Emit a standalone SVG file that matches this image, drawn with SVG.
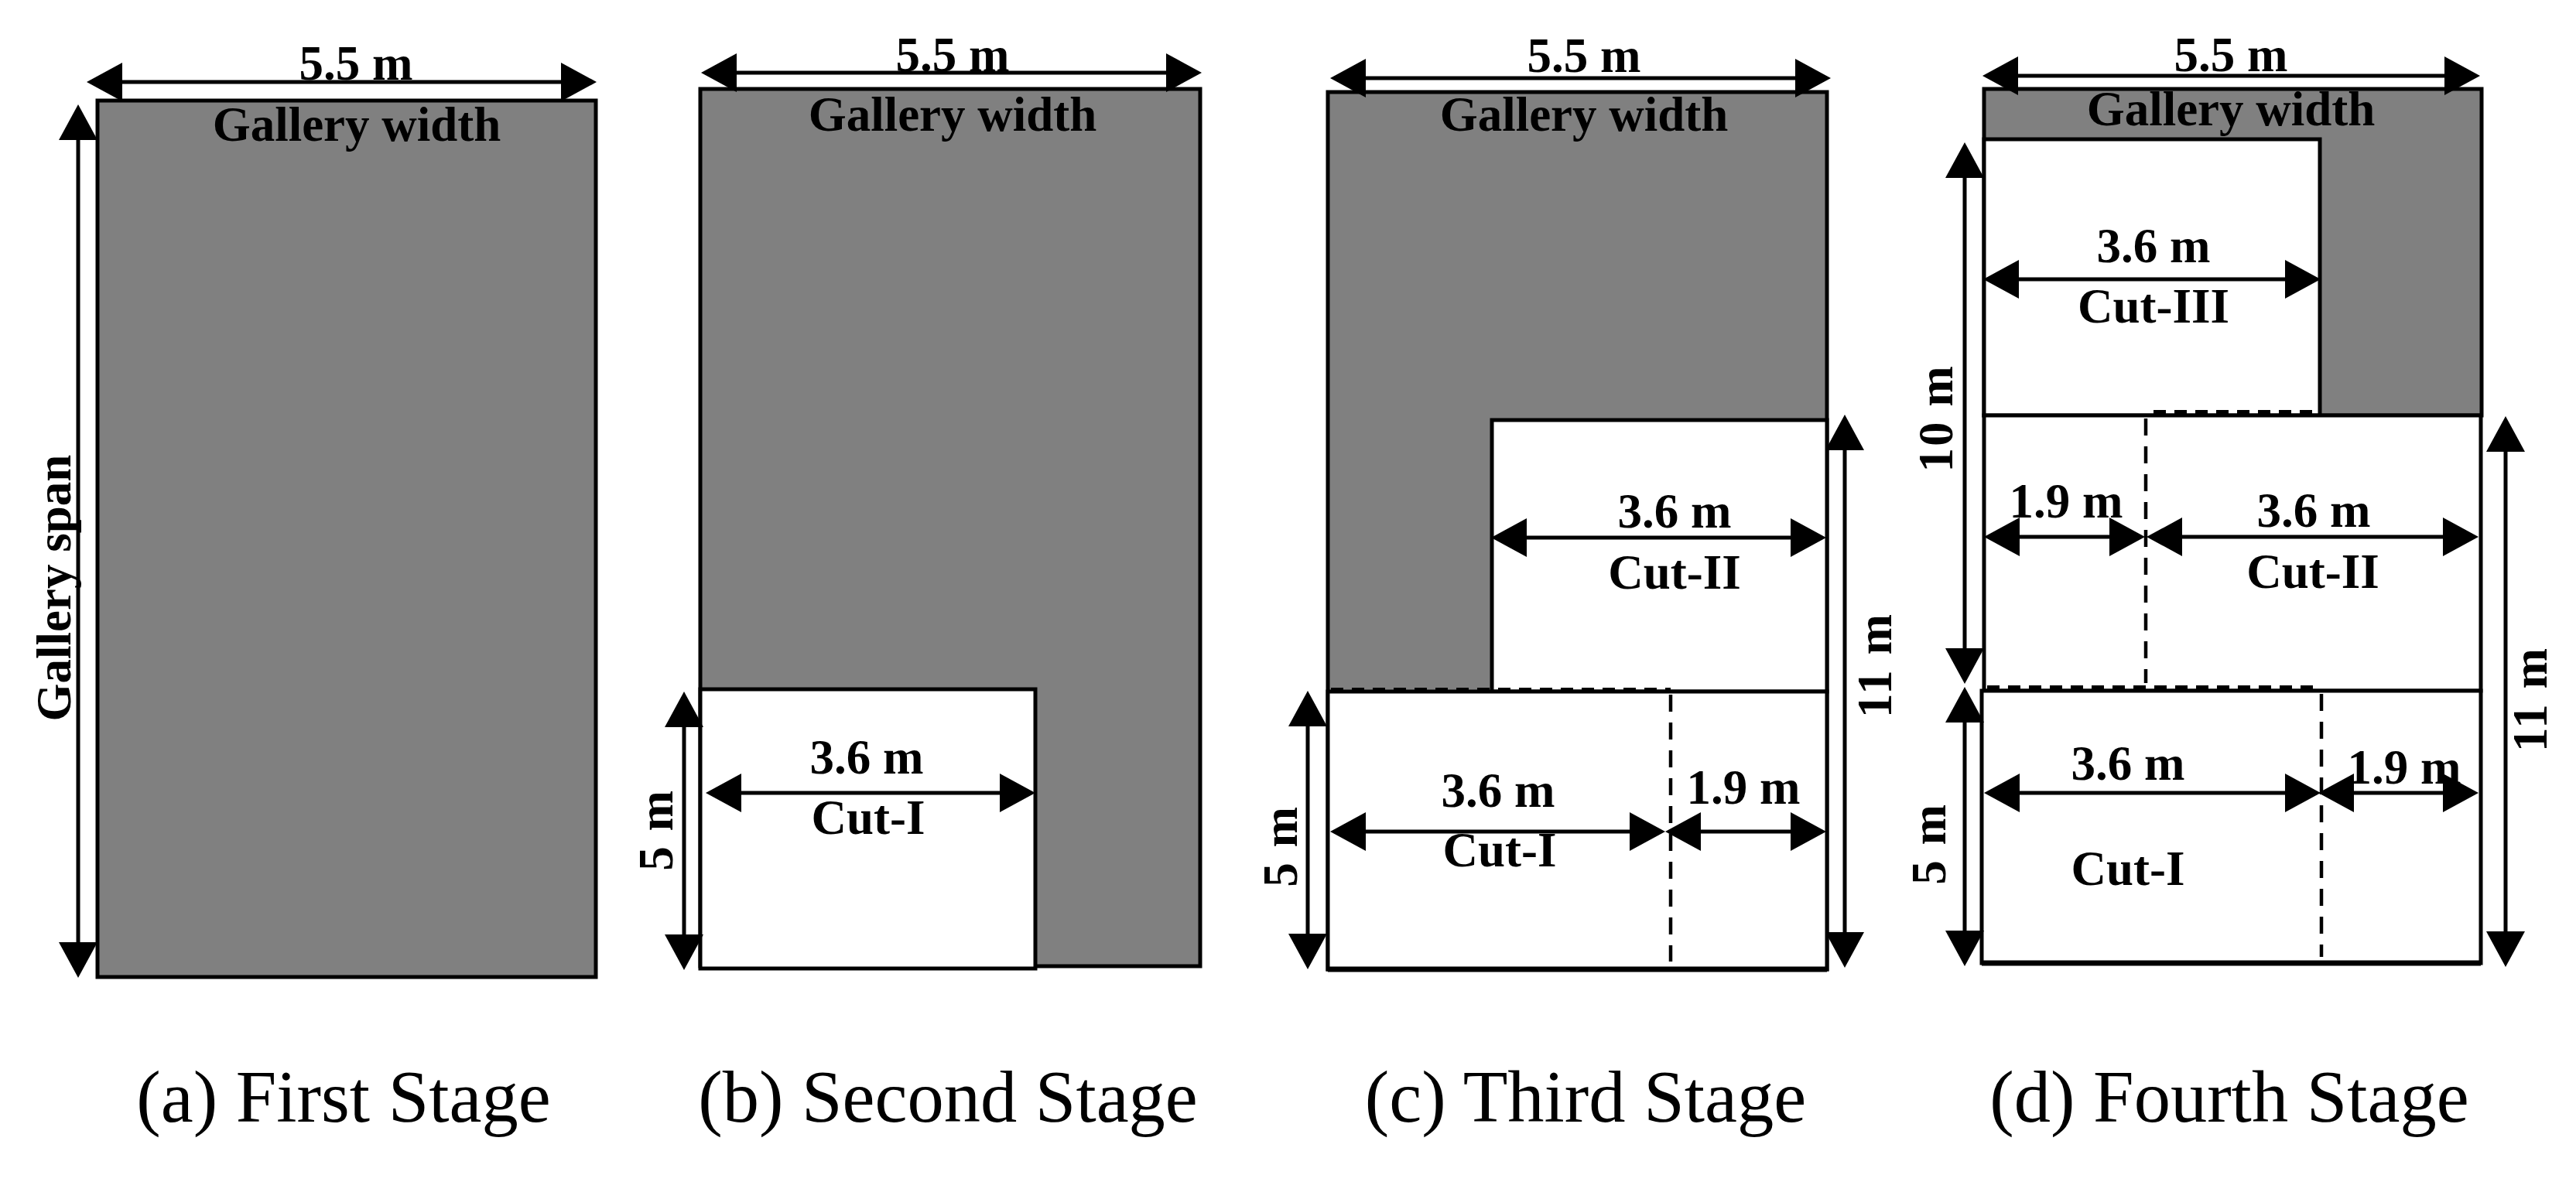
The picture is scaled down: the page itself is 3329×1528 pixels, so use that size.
<svg xmlns="http://www.w3.org/2000/svg" width="3329" height="1528" viewBox="0 0 3329 1528">
<style>
text{font-family:"Liberation Serif","Times New Roman",serif;fill:#000;text-anchor:middle}
.l{font-size:63px;font-weight:700}
.r{font-size:63px;font-weight:700;letter-spacing:2px}
.c{font-size:94.5px}
.g{fill:#808080;stroke:#000;stroke-width:5}
.w{fill:#fff;stroke:#000;stroke-width:5}
.n{fill:none;stroke:#000;stroke-width:7}
.d{fill:none;stroke:#000;stroke-width:4.5;stroke-dasharray:22 14}
.dt{fill:none;stroke:#000;stroke-width:6;stroke-dasharray:16 11}
.a{stroke:#000;stroke-width:5;fill:none;marker-start:url(#h);marker-end:url(#h)}
</style>
<defs>
<marker id="h" markerUnits="userSpaceOnUse" markerWidth="50" markerHeight="50" refX="0" refY="25" orient="auto-start-reverse" overflow="visible"><path d="M0,0L46,25L0,50Z" fill="#000"/></marker>
</defs>
<rect width="3329" height="1528" fill="#fff"/>
<g id="stage-a">
<rect class="g" x="126" y="130" width="644" height="1133"/>
<text class="l" x="461" y="182">Gallery width</text>
<text class="l" x="460" y="103">5.5 m</text>
<text class="l" transform="translate(91 760) rotate(-90)">Gallery span</text>
<text class="c" x="444" y="1450">(a) First Stage</text>
</g>
<g id="stage-b">
<rect class="g" x="905" y="115" width="646" height="1134"/>
<rect class="w" x="905" y="891" width="433" height="361"/>
<text class="l" x="1231" y="92">5.5 m</text>
<text class="l" x="1231" y="169">Gallery width</text>
<text class="l" x="1120" y="1000">3.6 m</text>
<text class="l" x="1122" y="1078">Cut-I</text>
<text class="r" transform="translate(869 1073) rotate(-90)">5 m</text>
<text class="c" x="1225" y="1450">(b) Second Stage</text>
</g>
<g id="stage-c">
<rect class="g" x="1716" y="119" width="645" height="1134"/>
<rect class="w" x="1928" y="543" width="433" height="351"/>
<rect class="w" x="1716" y="894" width="645" height="359"/>
<path class="n" d="M1716 1253H2361"/>
<path class="dt" d="M1720 892H2159"/>
<path class="d" d="M2159 898V1243"/>
<text class="l" x="2047" y="93">5.5 m</text>
<text class="l" x="2047" y="169">Gallery width</text>
<text class="l" x="2164" y="682">3.6 m</text>
<text class="l" x="2164" y="761">Cut-II</text>
<text class="l" x="1936" y="1043">3.6 m</text>
<text class="l" x="1938" y="1120">Cut-I</text>
<text class="l" x="2253" y="1039">1.9 m</text>
<text class="r" transform="translate(1676 1094) rotate(-90)">5 m</text>
<text class="r" transform="translate(2444 860) rotate(-90)">11 m</text>
<text class="c" x="2049" y="1450">(c) Third Stage</text>
</g>
<g id="stage-d">
<rect class="g" x="2564" y="115" width="643" height="422"/>
<rect class="w" x="2564" y="180" width="434" height="357"/>
<rect class="w" x="2564" y="537" width="642" height="356"/>
<rect class="w" x="2561" y="893" width="645" height="352"/>
<path class="n" d="M2561 1245H3206"/>
<path class="dt" d="M2783 533H3000M2568 889H3000"/>
<path class="d" d="M2773 541V883M3000 897V1237"/>
<text class="l" x="2883" y="92">5.5 m</text>
<text class="l" x="2883" y="162">Gallery width</text>
<text class="l" x="2783" y="339">3.6 m</text>
<text class="l" x="2783" y="417">Cut-III</text>
<text class="l" x="2670" y="669">1.9 m</text>
<text class="l" x="2990" y="681">3.6 m</text>
<text class="l" x="2989" y="760">Cut-II</text>
<text class="l" x="2750" y="1008">3.6 m</text>
<text class="l" x="2750" y="1144">Cut-I</text>
<text class="l" x="3107" y="1013">1.9 m</text>
<text class="r" transform="translate(2523 541) rotate(-90)">10 m</text>
<text class="r" transform="translate(2514 1091) rotate(-90)">5 m</text>
<text class="r" transform="translate(3291 904) rotate(-90)">11 m</text>
<text class="c" x="2881" y="1450">(d) Fourth Stage</text>
</g>
<g id="connectors">
<path class="a" d="M158 106H725"/>
<path class="a" d="M101 181V1218"/>
<path class="a" d="M952 94H1507"/>
<path class="a" d="M958 1025H1292"/>
<path class="a" d="M884 940V1208"/>
<path class="a" d="M1765 101H2320"/>
<path class="a" d="M1973 695H2314"/>
<path class="a" d="M1765 1075H2106"/>
<path class="a" d="M2198 1075H2314"/>
<path class="a" d="M1690 939V1207"/>
<path class="a" d="M2384 582V1205"/>
<path class="a" d="M2608 98H3159"/>
<path class="a" d="M2609 361H2953"/>
<path class="a" d="M2610 694H2726"/>
<path class="a" d="M2820 694H3157"/>
<path class="a" d="M2610 1025H2953"/>
<path class="a" d="M3042 1025H3157"/>
<path class="a" d="M2539 230V838"/>
<path class="a" d="M2539 934V1203"/>
<path class="a" d="M3238 584V1204"/>
</g>
</svg>
